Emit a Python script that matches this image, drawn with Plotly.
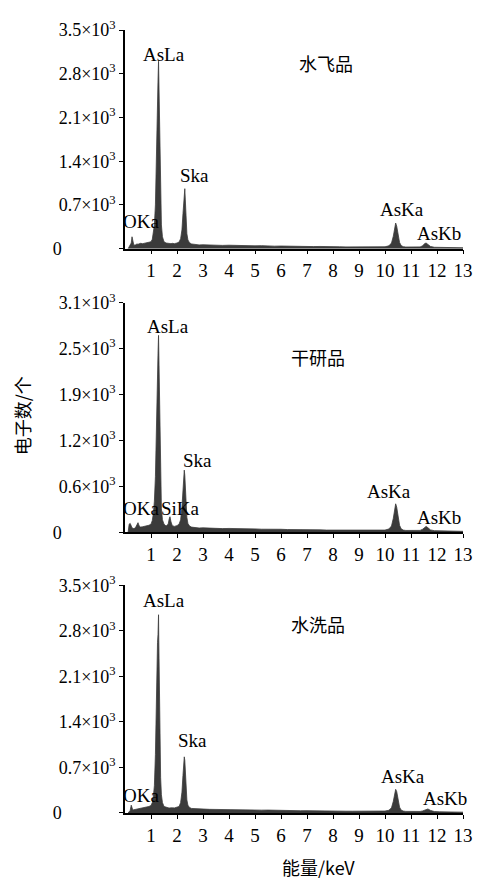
import plotly.graph_objects as go

# ---- data ----
energy_kev = [
    0.12, 0.16, 0.20, 0.24, 0.27, 0.30, 0.34, 0.40, 0.46, 0.50, 0.54, 0.60, 0.68, 0.76, 0.84, 0.92, 1.00,
    1.05, 1.09, 1.13, 1.17, 1.20, 1.23, 1.25, 1.27, 1.29, 1.30, 1.31, 1.33, 1.35, 1.37, 1.40, 1.44, 1.50,
    1.58, 1.66, 1.70, 1.73, 1.77, 1.82, 1.90, 2.00, 2.08, 2.14, 2.19, 2.23, 2.26, 2.28, 2.30, 2.32, 2.35, 2.38, 2.42, 2.48, 2.56,
    2.70, 2.85, 3.00, 3.25, 3.50, 3.75, 4.00, 4.25, 4.50, 4.75, 5.00, 5.25, 5.50, 5.75, 6.00, 6.25, 6.50, 6.75, 7.00, 7.25,
    7.50, 7.75, 8.00, 8.25, 8.50, 8.75, 9.00, 9.25, 9.50, 9.75, 10.00,
    10.15, 10.25, 10.32, 10.37, 10.41, 10.45, 10.50, 10.56, 10.62, 10.70, 10.80, 11.00, 11.20, 11.35, 11.45, 11.52, 11.58,
    11.65, 11.75, 11.90, 12.10, 12.40, 12.70, 13.00,
]

counts_shuifei = [
    0, 30, 40, 90, 190, 100, 55, 60, 75, 70, 80, 85, 80, 90, 95, 100, 110,
    150, 240, 380, 700, 1500, 2300, 2650, 2700, 3000, 2750, 2500, 1800, 1550, 850, 380, 190, 110,
    90, 85, 80, 85, 80, 85, 80, 90, 105, 160, 300, 560, 820, 940, 960, 780, 450, 240, 140, 95, 75,
    65, 60, 62, 55, 58, 52, 55, 50, 48, 50, 45, 48, 42, 40, 42, 38, 40, 35, 37, 33,
    35, 30, 32, 30, 28, 30, 27, 28, 26, 28, 30,
    45, 90, 200, 330, 410, 360, 220, 100, 50, 32, 26, 24, 22, 28, 45, 80, 90,
    70, 35, 22, 20, 18, 16, 14,
]

counts_ganyan = [
    0, 110, 120, 80, 60, 55, 50, 60, 100, 130, 90, 70, 75, 80, 85, 95, 110,
    160, 250, 420, 750, 1400, 2050, 2350, 2420, 2660, 2450, 2150, 1250, 1050, 600, 320, 170, 110,
    85, 110, 180, 210, 140, 90, 80, 90, 110, 170, 340, 600, 810, 840, 770, 580, 340, 200, 120, 85, 70,
    62, 58, 60, 55, 56, 50, 52, 48, 50, 45, 46, 42, 44, 40, 41, 37, 38, 35, 36, 32,
    33, 30, 31, 28, 29, 27, 28, 26, 27, 28, 30,
    45, 85, 190, 310, 385, 340, 210, 95, 48, 30, 25, 23, 22, 26, 42, 70, 80,
    62, 32, 22, 19, 17, 15, 13,
]

counts_shuixi = [
    0, 20, 40, 120, 80, 45, 50, 55, 60, 70, 65, 75, 80, 85, 90, 100, 115,
    160, 250, 420, 900, 1750, 2400, 2620, 2750, 3050, 2650, 2200, 1350, 1050, 550, 280, 160, 100,
    85, 80, 78, 80, 78, 80, 78, 85, 100, 160, 320, 580, 800, 864, 810, 620, 360, 200, 120, 85, 70,
    65, 60, 58, 56, 55, 52, 50, 52, 48, 50, 46, 44, 45, 41, 40, 38, 37, 35, 36, 33,
    32, 31, 30, 29, 28, 28, 27, 26, 26, 27, 30,
    42, 80, 180, 300, 364, 330, 200, 90, 45, 30, 25, 22, 21, 24, 32, 45, 58,
    62, 40, 22, 18, 16, 15, 13,
]

panel_names = ["水飞品", "干研品", "水洗品"]
x_tick_vals = list(range(1, 14))
y_ticks_a = [0, 700, 1400, 2100, 2800, 3500]
y_ticks_b = [0, 620, 1240, 1860, 2480, 3100]
y_labels_a = ["0", "0.7", "1.4", "2.1", "2.8", "3.5"]
y_labels_b = ["0", "0.6", "1.2", "1.9", "2.5", "3.1"]

peak_labels = [
    # (panel, text, energy, count)
    (1, "AsLa", 1.51, 3110), (1, "Ska", 2.68, 1170), (1, "OKa", 0.60, 430),
    (1, "AsKa", 10.66, 630), (1, "AsKb", 12.09, 250),
    (2, "AsLa", 1.66, 2780), (2, "Ska", 2.79, 970), (2, "OKa", 0.60, 320), (2, "SiKa", 2.15, 320),
    (2, "AsKa", 10.14, 545), (2, "AsKb", 12.09, 200),
    (3, "AsLa", 1.51, 3270), (3, "Ska", 2.60, 1120), (3, "OKa", 0.60, 270),
    (3, "AsKa", 10.70, 560), (3, "AsKb", 12.32, 230),
]
panel_title_pos = [(7.72, 2965), (7.42, 2370), (7.42, 2900)]

# ---- figure ----
SERIF = "Liberation Serif, Times New Roman, serif"
CJK = "Noto Sans CJK SC"
FILL = "#3b3b3b"

# page has an 8px body margin; plot area lands at x 125..470, y 18..813 of the window
W, H = 475, 874
ML, MR, MT, MB = 117, 13, 10, 69
PW, PH = W - ML - MR, H - MT - MB


def ytext(labels):
    out = []
    for lab in labels:
        if lab == "0":
            out.append("0" + "\u00a0" * 12)
        else:
            out.append(lab + "×10<sup>3</sup>")
    return out


fig = go.Figure()
series = [counts_shuifei, counts_ganyan, counts_shuixi]
for i, cts in enumerate(series, start=1):
    fig.add_trace(go.Scatter(
        x=energy_kev, y=cts, mode="lines", fill="tozeroy",
        line=dict(color=FILL, width=0.8), fillcolor=FILL,
        xaxis="x" if i == 1 else f"x{i}", yaxis="y" if i == 1 else f"y{i}",
        showlegend=False, hoverinfo="skip",
    ))


def py(pix):  # window pixel y -> paper fraction
    return (813 - pix) / PH


def px(pix):  # window pixel x -> paper fraction
    return (pix - 125) / PW


domains = [[py(240), 1.0], [py(528), py(295)], [0.0, py(582)]]
yranges = [[0, 3500], [0, 3100], [0, 3500]]
yticks = [(y_ticks_a, y_labels_a), (y_ticks_b, y_labels_b), (y_ticks_a, y_labels_a)]

layout = dict(
    width=W, height=H,
    margin=dict(l=ML, r=MR, t=MT, b=MB),
    paper_bgcolor="white", plot_bgcolor="white",
    font=dict(family=SERIF, size=16, color="black"),
    showlegend=False,
)
for i in range(1, 4):
    xa = "xaxis" if i == 1 else f"xaxis{i}"
    ya = "yaxis" if i == 1 else f"yaxis{i}"
    layout[xa] = dict(
        domain=[0, 1], range=[0, 13], anchor="y" if i == 1 else f"y{i}",
        tickmode="array", tickvals=x_tick_vals, ticktext=[str(v) for v in x_tick_vals],
        ticks="outside", ticklen=4, tickwidth=1.2, tickcolor="black",
        showline=True, linecolor="black", linewidth=1.5,
        showgrid=False, zeroline=False,
        tickfont=dict(family=SERIF, size=19, color="black"),
    )
    vals, labs = yticks[i - 1]
    layout[ya] = dict(
        domain=domains[i - 1], range=yranges[i - 1], anchor="x" if i == 1 else f"x{i}",
        tickmode="array", tickvals=vals, ticktext=ytext(labs),
        ticks="outside", ticklen=4, tickwidth=1.2, tickcolor="black",
        showline=True, linecolor="black", linewidth=1.5,
        showgrid=False, zeroline=False,
        tickfont=dict(family=SERIF, size=18, color="black"),
    )

annotations = []
for panel, text, e, c in peak_labels:
    annotations.append(dict(
        x=e, y=c, xref="x" if panel == 1 else f"x{panel}", yref="y" if panel == 1 else f"y{panel}",
        text=text, showarrow=False, xanchor="center", yanchor="middle",
        font=dict(family=SERIF, size=19, color="black"),
    ))
for i, (name, (e, c)) in enumerate(zip(panel_names, panel_title_pos), start=1):
    annotations.append(dict(
        x=e, y=c, xref="x" if i == 1 else f"x{i}", yref="y" if i == 1 else f"y{i}",
        text=name, showarrow=False, xanchor="center", yanchor="middle",
        font=dict(family=CJK, size=18, color="black"),
    ))
annotations.append(dict(
    x=px(20), y=py(410), xref="paper", yref="paper",
    text="电子数/个", textangle=-90, showarrow=False, xanchor="center", yanchor="middle",
    font=dict(family=CJK, size=18, color="black"),
))
annotations.append(dict(
    x=px(322), y=py(868), xref="paper", yref="paper",
    text="能量/keV", showarrow=False, xanchor="center", yanchor="middle",
    font=dict(family=CJK, size=18, color="black"),
))
layout["annotations"] = annotations
fig.update_layout(**layout)
fig.write_html("out.html")
